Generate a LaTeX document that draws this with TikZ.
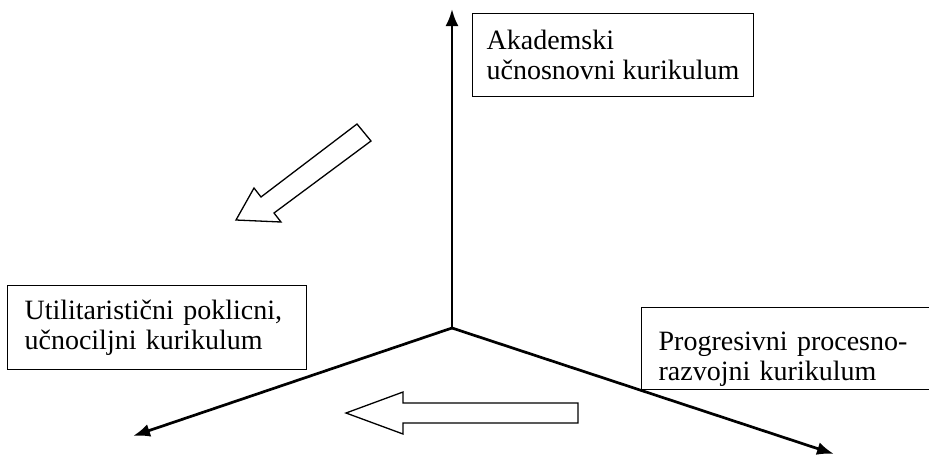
\documentclass[tikz,border=0pt]{standalone}
\usepackage{fontspec}
\setmainfont{Liberation Serif}
\usetikzlibrary{arrows.meta, positioning}

\begin{document}
\begin{tikzpicture}[x=1pt, y=-1pt,
  kbox/.style={draw, line width=1.2pt, align=left, inner xsep=17pt, anchor=north west,
    font=\fontsize{28}{30}\selectfont},
  axis/.style={line width=2.7pt, -{Latex[length=17pt, width=13pt]}},
  hollow/.style={draw, line width=1.3pt, line join=miter}]
\useasboundingbox (0,0) rectangle (929,456);
% axes
\coordinate (o) at (452,328);
\coordinate (up) at (452,9);
\coordinate (lft) at (133,436);
\coordinate (rgt) at (834,454);
\draw[axis] (o) -- (up);
\draw[axis] (o) -- (lft);
\draw[axis] (o) -- (rgt);
% boxes
\node[kbox, inner xsep=14pt, minimum height=83pt] (akad) at (472,13) {Akademski\\u\v{c}nosnovni kurikulum};
\node[kbox, text width=265pt, minimum height=84pt] (util) at (7,285) {Utilitaristi\v{c}ni poklicni,\\u\v{c}nociljni kurikulum};
\node[kbox, text width=280pt, minimum height=82pt] (prog) at (641,307) {\rule{0pt}{39pt}Progresivni procesno-\\razvojni kurikulum};
% hollow arrows
\draw[hollow] (357,124) -- (261,197) -- (254,188) -- (236,220) -- (281,222) -- (274,213) -- (371,141) -- cycle;
\draw[hollow] (578,403) -- (403,403) -- (403,392) -- (346,413) -- (403,434) -- (403,423) -- (578,423) -- cycle;
\end{tikzpicture}
\end{document}
